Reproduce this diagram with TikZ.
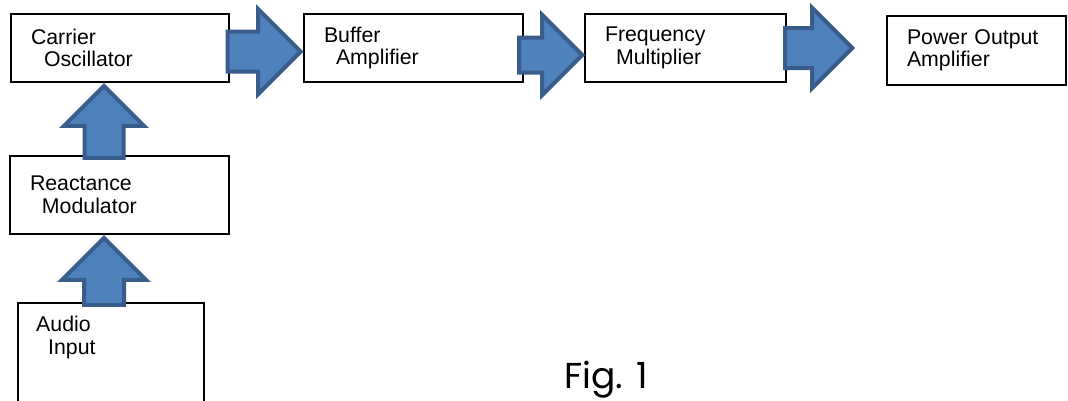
\documentclass[tikz,border=0pt]{standalone}
\usepackage{fontspec}
\setmainfont{Liberation Sans}
\newfontfamily\figfont{Poppins}
\usetikzlibrary{shapes.arrows}
\definecolor{arrowfill}{HTML}{4F81BD}
\definecolor{arrowedge}{HTML}{385D8A}

\begin{document}
\begin{tikzpicture}[x=1pt,y=-1pt,
	blk/.style={draw, line width=2pt, inner xsep=20pt, inner ysep=0pt, align=left, font=\fontsize{21.3}{22.5}\selectfont},
	blktext/.style={inner sep=0pt, align=left, font=\fontsize{21.3}{22.5}\selectfont},
	barrow/.style={single arrow, draw=arrowedge, fill=arrowfill, line width=4pt, inner xsep=0pt, anchor=tip}]
	\useasboundingbox (0,0) rectangle (1068,400);
	\clip (0,0) rectangle (1068,400);
	% boxes
	\node[blk, text width=178pt, minimum height=68pt] (co) at (120,48) {Carrier\\\hspace*{13pt}Oscillator};
	\node[blk, text width=179pt, minimum height=68pt] (ba) at (413.5,48) {Buffer\\\hspace*{12pt}Amplifier};
	\node[blk, text width=161pt, minimum height=68pt] (fm) at (685.5,48) {Frequency\\\hspace*{11pt}Multiplier};
	\node[blk, text width=139pt, minimum height=69pt] (po) at (976.5,50.5) {Power Output\\Amplifier};
	\node[blk, text width=179pt, minimum height=78pt] (rm) at (119.5,195) {Reactance\\\hspace*{12pt}Modulator};
	\node[blk, text width=146pt, minimum height=120pt] (ai) at (111,363) {};
	\node[blktext, anchor=north west] (aitext) at ([xshift=19pt,yshift=-14pt]ai.north west) {Audio\\\hspace*{12pt}Input};
	% block arrows
	\node[barrow, inner ysep=18pt, minimum height=73pt, single arrow head extend=22.5pt] (a1) at (303.5,51.5) {};
	\node[barrow, inner ysep=15.5pt, minimum height=63pt, single arrow head extend=22.5pt] (a2) at (585,55) {};
	\node[barrow, inner ysep=18pt, minimum height=67pt, single arrow head extend=20pt] (a3) at (855,48) {};
	\node[barrow, rotate=90, inner ysep=17.5pt, minimum height=72pt, single arrow head extend=20.5pt] (u1) at (104,83) {};
	\node[barrow, rotate=90, inner ysep=18pt, minimum height=67pt, single arrow head extend=22pt] (u2) at (104,235) {};
	% caption
	\node[font=\figfont\fontsize{36}{38}\selectfont, anchor=base] (fig) at (606,388) {Fig. 1};
\end{tikzpicture}
\end{document}
